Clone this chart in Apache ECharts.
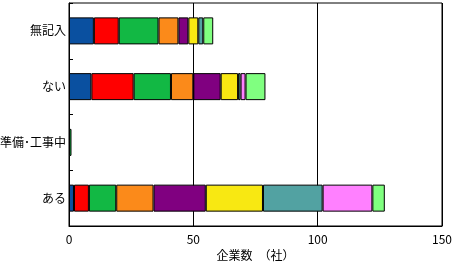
<!DOCTYPE html>
<html>
<head>
<meta charset="utf-8">
<script src="https://cdn.jsdelivr.net/npm/echarts@6/dist/echarts.min.js"></script>
<style>html,body{margin:0;padding:0;background:#fff;}#c{width:455px;height:263px;}</style>
</head>
<body>
<div id="c"></div>
<script>
// categories, bottom to top
const categories = ['ある', '準備･工事中', 'ない', '無記入'];
const xTicks = [0, 50, 100, 150];
const axisTitle = '企業数　（社）';
// series values, one entry per category (ある, 準備･工事中, ない, 無記入)
const s1 = [2, 0, 9, 10];
const s2 = [6, 0, 17, 10];
const s3 = [11, 1, 15, 16];
const s4 = [15, 0, 9, 8];
const s5 = [21, 0, 11, 4];
const s6 = [23, 0, 7, 4];
const s7 = [24, 0, 1, 2];
const s8 = [20, 0, 2, 0];
const s9 = [5, 0, 8, 4];
const seriesData = [s1, s2, s3, s4, s5, s6, s7, s8, s9];
const colors = ['#0A50A0', '#FF0000', '#12B844', '#FB8A1A', '#800080', '#F8E812', '#52A2A2', '#FF80FF', '#80FF80'];

const font = '"Noto Sans CJK JP", "Noto Sans", sans-serif';
const chart = echarts.init(document.getElementById('c'), null, {renderer: 'canvas'});
chart.setOption({
  animation: false,
  grid: {left: 69, right: 13, top: 3, bottom: 37, show: true, borderColor: '#000', borderWidth: 1, containLabel: false, outerBoundsMode: 'none'},
  xAxis: {
    type: 'value', min: xTicks[0], max: xTicks[xTicks.length - 1], interval: 50,
    name: axisTitle, nameLocation: 'middle', nameGap: 21,
    nameTextStyle: {color: '#000', fontSize: 12, fontFamily: font},
    axisLine: {show: true, lineStyle: {color: '#000', width: 1}},
    axisTick: {show: false},
    axisLabel: {color: '#000', fontSize: 12, fontFamily: font, margin: 7},
    splitLine: {show: true, lineStyle: {color: '#000', width: 1}}
  },
  yAxis: {
    type: 'category', data: categories,
    axisLine: {show: true, lineStyle: {color: '#000', width: 1}},
    axisTick: {show: true, inside: true, length: 4, lineStyle: {color: '#000'}},
    axisLabel: {color: '#000', fontSize: 12, fontFamily: font, margin: 3},
    splitLine: {show: false}
  },
  series: seriesData.map((d, i) => ({
    type: 'bar', name: '系列' + (i + 1), stack: 'total',
    data: d.map(v => (v === 0 ? '-' : v)),
    barWidth: 27,
    itemStyle: {color: colors[i], borderColor: '#000', borderWidth: 1}
  }))
});
</script>
</body>
</html>
